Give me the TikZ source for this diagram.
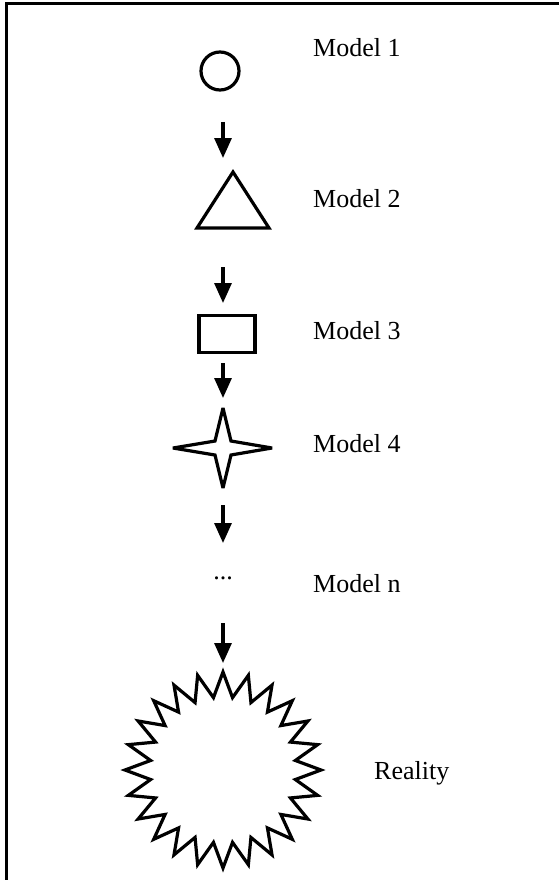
\documentclass[tikz,border=0pt]{standalone}
\usepackage{fontspec}
\setmainfont{Liberation Serif}
\usetikzlibrary{arrows.meta}

\tikzset{
    outline/.style={draw, line width=3.2pt, line join=miter, miter limit=4},
    flow/.style={line width=3.2pt, -{Triangle[length=20pt,width=17pt]}},
    caption/.style={anchor=base west, inner sep=0pt,
        font=\fontsize{26}{30}\selectfont}
}

\begin{document}
\begin{tikzpicture}[x=1pt, y=-1pt]
    \useasboundingbox (0,0) rectangle (559,880);
    % frame, only top and left show
    \draw[line width=3pt] (6.5,900) -- (6.5,4) -- (600,4);

    % shapes
    \node[outline, circle, minimum size=38pt, inner sep=0pt] (m1) at (220,71) {};
    \coordinate (m2) at (233,200);
    \draw[outline] (233,172) -- (269,228) -- (197,228) -- cycle;
    \node[outline, rectangle, minimum width=56pt, minimum height=37pt, inner sep=0pt] (m3) at (227,334) {};
    \coordinate (m4) at (223,448);
    \draw[outline] (223,408) -- (231,441) -- (272,448) -- (231,455)
        -- (223,488) -- (215,455) -- (173,448) -- (215,441) -- cycle;
    \node[inner sep=0pt, font=\fontsize{26}{30}\selectfont] (mn) at (223,578) {...};
    \coordinate (real) at (223,770);
    \draw[outline, shift={(real)}] (90:98)
        \foreach \i in {1,...,47} { -- (90+7.5*\i:{85.5+12.5*cos(180*\i)}) } -- cycle;

    % labels
    \node[caption] (l1) at (313,57) {Model 1};
    \node[caption] (l2) at (313,207) {Model 2};
    \node[caption] (l3) at (313,339) {Model 3};
    \node[caption] (l4) at (313,452) {Model 4};
    \node[caption] (ln) at (313,592) {Model n};
    \node[caption] (lr) at (374,779) {Reality};

    % arrows
    \coordinate (a1) at (223,122);
    \coordinate (b1) at (223,158);
    \coordinate (a2) at (223,267);
    \coordinate (b2) at (223,303);
    \coordinate (a3) at (223,363);
    \coordinate (b3) at (223,398);
    \coordinate (a4) at (223,505);
    \coordinate (b4) at (223,543);
    \coordinate (a5) at (223,623);
    \coordinate (b5) at (223,663);
    \foreach \k in {1,...,5}
        \draw[flow] (a\k) -- (b\k);
\end{tikzpicture}
\end{document}
